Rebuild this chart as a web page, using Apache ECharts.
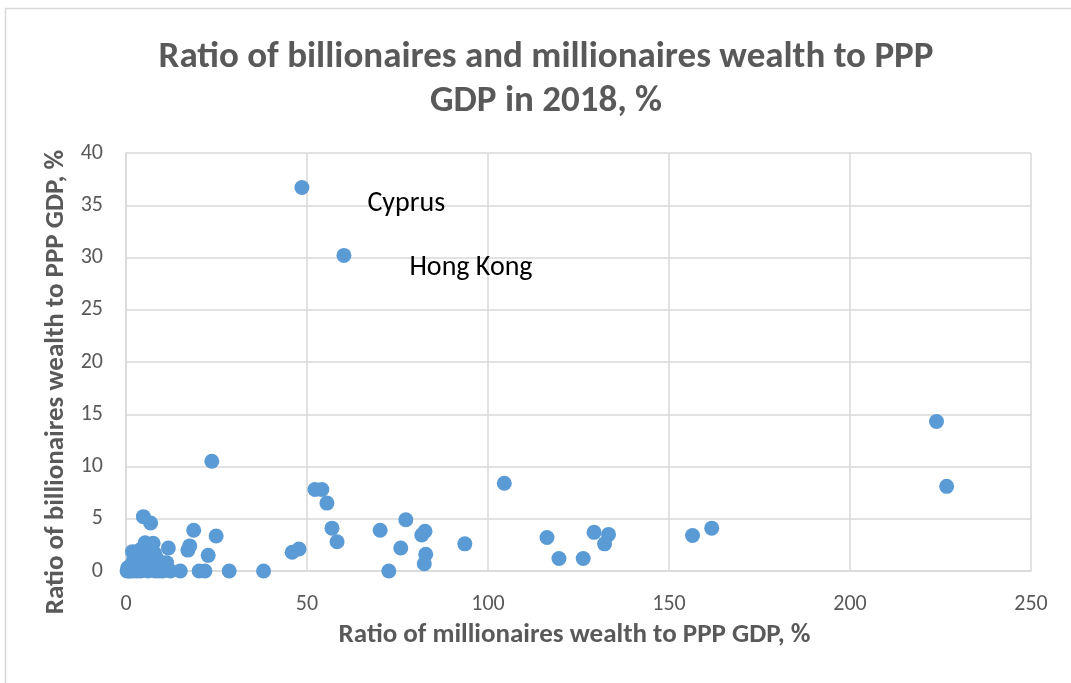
<!DOCTYPE html>
<html><head><meta charset="utf-8">
<script src="https://cdn.jsdelivr.net/npm/echarts@6/dist/echarts.min.js"></script>
<style>html,body{margin:0;padding:0;background:#fff}#c{width:1071px;height:683px}</style>
</head><body><div id="c"></div>
<script>
const titleLines = ['Ratio of billionaires and millionaires wealth to PPP', 'GDP in 2018, %'];
const xAxisName = 'Ratio of millionaires wealth to PPP GDP, %';
const yAxisName = 'Ratio of billionaires wealth to PPP GDP, %';
const millionairesRatio = [48.6, 60.2, 23.7, 223.9, 226.7, 104.5, 52.2, 54.1, 55.5, 56.9, 58.3, 45.9, 47.8, 70.2, 77.3, 75.9, 81.7, 82.6, 82.8, 82.4, 72.6, 93.6, 116.3, 119.6, 126.3, 129.3, 133.3, 132.2, 156.5, 161.8, 18.7, 24.9, 17.6, 17.1, 22.7, 15.0, 20.2, 21.8, 28.5, 38.0, 4.8, 6.8, 1.8, 5.3, 7.5, 11.7,
  0.3, 0.8, 1.2, 1.6, 2.0, 2.6, 3.0, 3.5, 4.0, 4.6, 5.0, 5.6, 6.1, 6.6, 7.1, 7.6, 8.1, 8.6, 9.1, 9.6, 10.1, 10.6, 11.2, 12.3, 2.2, 3.3, 4.2, 6.2, 8.3, 9.3, 1.5, 0.5, 11.2, 6.8, 5.8, 3.8, 7.9];
const billionairesRatio = [36.7, 30.2, 10.5, 14.3, 8.1, 8.4, 7.8, 7.8, 6.5, 4.1, 2.8, 1.8, 2.1, 3.9, 4.9, 2.2, 3.45, 3.8, 1.6, 0.7, 0.0, 2.6, 3.2, 1.2, 1.2, 3.7, 3.5, 2.6, 3.4, 4.1, 3.9, 3.35, 2.4, 2.0, 1.5, 0.0, 0.0, 0.0, 0.0, 0.0, 5.2, 4.6, 1.85, 2.7, 2.65, 2.2,
  0.0, 0.0, 0.0, 0.1, 0.0, 0.2, 0.0, 0.4, 0.0, 0.3, 0.1, 0.6, 0.0, 0.2, 0.8, 0.1, 0.0, 0.4, 0.0, 0.3, 0.0, 0.2, 0.1, 0.0, 1.2, 1.0, 1.5, 1.6, 1.3, 0.9, 0.6, 0.3, 0.8, 2.2, 1.9, 2.0, 1.7];
const pointLabels = ['Cyprus', 'Hong Kong'];
const xTicks = [0, 50, 100, 150, 200, 250];
const yTicks = [0, 5, 10, 15, 20, 25, 30, 35, 40];

const font = 'Carlito, "Liberation Sans Narrow", "Open Sans", sans-serif';
const labelPos = [[73, 10], [73, 6]];
const data = millionairesRatio.map((x, i) => {
  const d = {value: [x, billionairesRatio[i]]};
  if (i < pointLabels.length) {
    d.label = {show: true, formatter: pointLabels[i], position: labelPos[i], align: 'left', verticalAlign: 'top',
      color: '#000', fontSize: 28, fontFamily: font};
  }
  return d;
});
const chart = echarts.init(document.getElementById('c'), null, {renderer: 'canvas'});
chart.setOption({
  animation: false,
  backgroundColor: '#fff',
  title: {text: titleLines.join('\n'), left: 541, textAlign: 'center', top: 31,
    textStyle: {fontSize: 37, fontWeight: 'bold', color: '#595959', fontFamily: font, lineHeight: 44}},
  grid: {left: 126, right: 40, top: 153, bottom: 112},
  xAxis: {type: 'value', min: xTicks[0], max: xTicks[xTicks.length - 1], interval: 50,
    name: xAxisName, nameLocation: 'middle', nameGap: 51,
    nameTextStyle: {fontSize: 27, fontWeight: 'bold', color: '#595959', fontFamily: font, padding: [0, 8, 0, 0]},
    axisLine: {show: true, lineStyle: {color: '#d9d9d9', width: 1.5}}, axisTick: {show: false},
    axisLabel: {fontSize: 22, color: '#595959', margin: 22, fontFamily: font},
    splitLine: {show: true, lineStyle: {color: '#d9d9d9', width: 1.5}}},
  yAxis: {type: 'value', min: yTicks[0], max: yTicks[yTicks.length - 1], interval: 5,
    name: yAxisName, nameLocation: 'middle', nameGap: 56, nameRotate: 90,
    nameTextStyle: {fontSize: 27, fontWeight: 'bold', color: '#595959', fontFamily: font, padding: [0, 40, 0, 0]},
    axisLine: {show: true, lineStyle: {color: '#d9d9d9', width: 1.5}}, axisTick: {show: false},
    axisLabel: {fontSize: 22, color: '#595959', margin: 23, fontFamily: font},
    splitLine: {show: true, lineStyle: {color: '#d9d9d9', width: 1.5}}},
  graphic: [{type: 'rect', shape: {x: 5.5, y: 8.5, width: 1080, height: 700}, style: {fill: 'none', stroke: '#d9d9d9', lineWidth: 1.5}, silent: true, z: -1}],
  series: [{type: 'scatter', symbolSize: 15, itemStyle: {color: '#5b9bd5', opacity: 1}, data: data}]
});
</script></body></html>
